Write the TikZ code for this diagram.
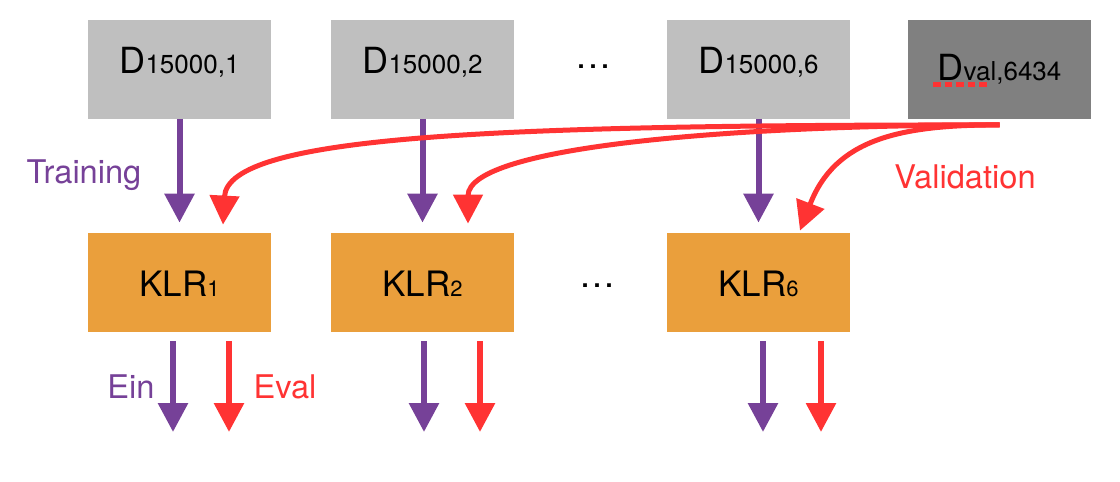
\documentclass[tikz,border=0pt]{standalone}
\usepackage{fontspec}
\setmainfont{TeX Gyre Heros}
\usepackage{tikz}
\usetikzlibrary{arrows.meta}

\definecolor{dataGray}{RGB}{191,191,191}
\definecolor{valGray}{RGB}{128,128,128}
\definecolor{klrOrange}{RGB}{234,159,60}
\definecolor{trainPurple}{RGB}{118,65,152}
\definecolor{valRed}{RGB}{255,51,51}

\newcommand{\dsub}[1]{{\fontsize{13}{13}\selectfont #1}}
\newcommand{\ksub}[1]{{\fontsize{11}{11}\selectfont #1}}

\begin{document}
\begin{tikzpicture}[x=0.5pt,y=-0.5pt]
		\useasboundingbox (0,0) rectangle (1120,482);
		\begin{scope}
			[
				styleData/.style={
					minimum width = 91.5pt, minimum height = 49.5pt,
					inner sep = 0pt, fill = dataGray,
					text height = 9pt, text depth = 5pt,
					font = \fontsize{18}{20}\selectfont
					},
				styleVal/.style={styleData, fill = valGray, text height = 13pt, text depth = 2pt},
				styleKLR/.style={
					minimum width = 91.5pt, minimum height = 49.5pt,
					inner sep = 0pt, fill = klrOrange,
					text height = 13.5pt, text depth = 0pt,
					font = \fontsize{17.5}{20}\selectfont
					},
				styleDots/.style={font = \fontsize{18}{20}\selectfont},
				styleLabel/.style={anchor = base, font = \fontsize{16.3}{18}\selectfont},
			]
			\node(D1)[styleData] at (179.5,69) {D\dsub{15000,1}};
			\node(D2)[styleData] at (422.5,69) {D\dsub{15000,2}};
			\node(dotsD)[styleDots] at (593,67) {\ldots};
			\node(D6)[styleData] at (758.5,69) {D\dsub{15000,6}};
			\node(Dval)[styleVal] at (999.5,69) {D\dsub{val,6434}};

			\node(KLR1)[styleKLR] at (179.5,282.5) {KLR\ksub{1}};
			\node(KLR2)[styleKLR] at (422.5,282.5) {KLR\ksub{2}};
			\node(dotsK)[styleDots] at (597,286) {\ldots};
			\node(KLR6)[styleKLR] at (758.5,282.5) {KLR\ksub{6}};

			\node(training)[styleLabel, text = trainPurple] at (84,183) {Training};
			\node(validation)[styleLabel, text = valRed] at (965,188) {Validation};
			\node(ein)[styleLabel, text = trainPurple] at (131,398) {Ein};
			\node(eval)[styleLabel, text = valRed] at (285,398) {Eval};

			\coordinate(vs) at ([yshift=-3pt]Dval.south);
			\coordinate(ein1) at (173,432);
			\coordinate(eval1) at (229,432);
			\coordinate(ein2) at (424,432);
			\coordinate(eval2) at (480,432);
			\coordinate(ein6) at (763,432);
			\coordinate(eval6) at (821,432);
		\end{scope}

		\begin{scope}
			[ tip/.style = {-{Triangle[width=14.5pt,length=14.5pt]}},
				train/.style = {tip, draw = trainPurple, line width = 3pt, shorten >=5pt},
				valid/.style = {tip, draw = valRed, line width = 2.5pt, out = 180},
				errIn/.style = {tip, draw = trainPurple, line width = 3pt, shorten <=4.5pt},
				errVal/.style = {tip, draw = valRed, line width = 3pt, shorten <=4.5pt},
				spellMark/.style = {draw = valRed, line width = 2.5pt, dash pattern = on 3.75pt off 2pt}]
			\path
			(D1) edge[train]					(KLR1)
			(D2) edge[train]					(KLR2)
			(D6) edge[train]					(KLR6)

			(vs) edge[valid, out distance=249.5pt, in=87, in distance=45pt]		([shift={(43.5,-8)}]KLR1.north)
			(vs) edge[valid, out distance=124.5pt, in=90, in distance=39.5pt]	([shift={(45.5,-9)}]KLR2.north)
			(vs) edge[valid, out distance=50pt, in=69, in distance=49pt]		([shift={(41.5,-2)}]KLR6.north)

			(ein1 |- KLR1.south) edge[errIn]	(ein1)
			(eval1 |- KLR1.south) edge[errVal]	(eval1)
			(ein2 |- KLR2.south) edge[errIn]	(ein2)
			(eval2 |- KLR2.south) edge[errVal]	(eval2)
			(ein6 |- KLR6.south) edge[errIn]	(ein6)
			(eval6 |- KLR6.south) edge[errVal]	(eval6);

			\draw[spellMark] ([shift={(-66.5,15)}]Dval.center) -- ([shift={(-9.5,15)}]Dval.center);
		\end{scope}
	\end{tikzpicture}
\end{document}
